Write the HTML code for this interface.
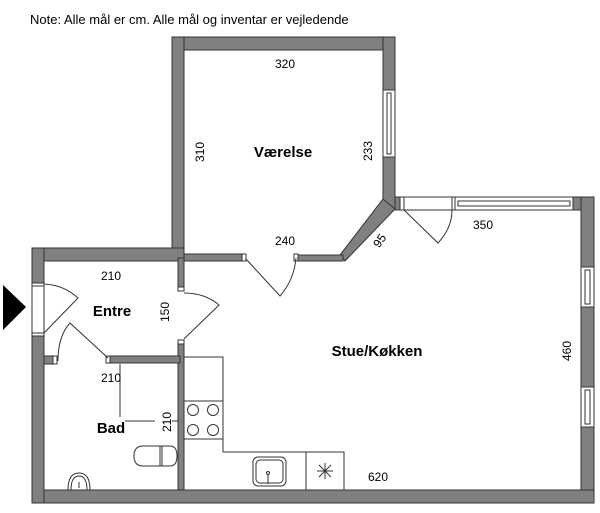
<!DOCTYPE html>
<html><head><meta charset="utf-8"><style>
html,body{margin:0;padding:0;background:#fff;}
svg{display:block;}
text{font-family:"Liberation Sans","DejaVu Sans",sans-serif;fill:#000;}
</style></head><body>
<svg width="600" height="513" viewBox="0 0 600 513" xmlns="http://www.w3.org/2000/svg">
<text x="30" y="24" font-size="13">Note: Alle mål er cm. Alle mål og inventar er vejledende</text>
<g fill="#808080" stroke="#333" stroke-width="1">
<rect x="172" y="37" width="223" height="13"/>
<rect x="172" y="37" width="12" height="224"/>
<rect x="383" y="37" width="12" height="53"/>
<rect x="383" y="157" width="12" height="52"/>
<polygon points="383,199 395,209 345,261 340,255"/>
<rect x="296" y="255" width="47" height="6"/>
<rect x="174" y="254" width="70" height="7"/>
<rect x="395" y="197" width="6" height="13"/>
<rect x="573" y="197" width="21" height="13"/>
<rect x="581" y="197" width="13" height="70"/>
<rect x="581" y="307" width="13" height="80"/>
<rect x="581" y="427" width="13" height="76"/>
<rect x="32" y="490" width="562" height="13"/>
<rect x="32" y="248" width="152" height="13"/>
<rect x="32" y="248" width="12" height="35"/>
<rect x="32" y="336" width="12" height="167"/>
<rect x="178" y="258" width="6" height="33"/>
<rect x="178" y="340" width="6" height="150"/>
<rect x="44" y="356" width="12" height="8"/>
<rect x="106" y="356" width="74" height="7"/>
</g>
<g fill="#fff" stroke="#333" stroke-width="1">
<rect x="242" y="254" width="4" height="7"/>
<rect x="294" y="254" width="4" height="7"/>
<rect x="178" y="287" width="6" height="4"/>
<rect x="178" y="340" width="6" height="4"/>
<rect x="53" y="356" width="4" height="8"/>
<rect x="106" y="356" width="4" height="7"/>
<rect x="32" y="283" width="12" height="53"/>
<line x1="32" y1="286" x2="44" y2="286"/><line x1="32" y1="333" x2="44" y2="333"/>
<rect x="383" y="90" width="12" height="67"/><rect x="387" y="93" width="4" height="61"/>
<rect x="581" y="267" width="13" height="40"/><rect x="585" y="270" width="5" height="34"/>
<rect x="581" y="387" width="13" height="40"/><rect x="585" y="390" width="5" height="34"/>
<rect x="455" y="197" width="118" height="13"/><rect x="458" y="201" width="112" height="5"/>
<rect x="400" y="197" width="55" height="13"/>
<line x1="404" y1="197" x2="404" y2="210"/><line x1="452" y1="197" x2="452" y2="210"/>
</g>
<g fill="none" stroke="#333" stroke-width="1">
<path d="M246,259 L280,296 Q294,280 296,258"/>
<path d="M404,210 L438,243 Q452,228 452,210"/>
<path d="M184,293 Q205,293 219,305 L184,339"/>
<path d="M44,284 Q64,285 78,298 L44,333"/>
<path d="M58,361 Q58,336 70,323 L108,358"/>
<path d="M184,357 H223 V452 H344 V490"/>
<line x1="184" y1="401" x2="223" y2="401"/>
<line x1="184" y1="439" x2="223" y2="439"/>
<line x1="306" y1="452" x2="306" y2="490"/>
<circle cx="193" cy="410" r="5.5"/><circle cx="213" cy="410" r="5.5"/>
<circle cx="193" cy="430" r="5.5"/><circle cx="213" cy="430" r="5.5"/>
<rect x="253" y="457" width="33" height="29" rx="5"/>
<rect x="256" y="460" width="27" height="23" rx="4"/>
<line x1="268" y1="474" x2="268" y2="484"/><circle cx="268" cy="473" r="1.5"/>
<line x1="317" y1="471" x2="333" y2="471"/><line x1="325" y1="463" x2="325" y2="479"/>
<line x1="319" y1="465" x2="331" y2="477"/><line x1="331" y1="465" x2="319" y2="477"/>
<path d="M143,446 Q134,446 134,456 Q134,466 143,466 L170,466 Q177,466 177,456 Q177,446 170,446 Z"/>
<line x1="160" y1="446" x2="160" y2="466"/><line x1="162" y1="446" x2="162" y2="466"/>
<path d="M68,490 Q68,473 79,473 Q90,473 90,490"/>
<path d="M71,490 Q71,476 79,476 Q87,476 87,490"/>
<line x1="79" y1="482" x2="79" y2="488"/>
<line x1="120" y1="364" x2="120" y2="417"/>
<line x1="125" y1="421" x2="155" y2="421"/>
<line x1="172" y1="421" x2="178" y2="421"/>
</g>
<polygon points="3,285 3,330 26,307" fill="#000"/>
<g font-size="12">
<text x="285" y="68" text-anchor="middle">320</text>
<text x="285" y="245" text-anchor="middle">240</text>
<text x="483" y="229" text-anchor="middle">350</text>
<text x="111" y="280" text-anchor="middle">210</text>
<text x="111" y="382" text-anchor="middle">210</text>
<text x="378" y="481" text-anchor="middle">620</text>
<text transform="translate(204,152) rotate(-90)" text-anchor="middle">310</text>
<text transform="translate(372,151) rotate(-90)" text-anchor="middle">233</text>
<text transform="translate(169,312) rotate(-90)" text-anchor="middle">150</text>
<text transform="translate(171,422) rotate(-90)" text-anchor="middle">210</text>
<text transform="translate(571,351) rotate(-90)" text-anchor="middle">460</text>
<text transform="translate(383,243) rotate(-55)" text-anchor="middle">95</text>
</g>
<g font-size="15" font-weight="bold">
<text x="283" y="157" text-anchor="middle">Værelse</text>
<text x="112" y="316" text-anchor="middle">Entre</text>
<text x="111" y="433" text-anchor="middle">Bad</text>
<text x="377" y="356" text-anchor="middle">Stue/Køkken</text>
</g>
</svg>
</body></html>
